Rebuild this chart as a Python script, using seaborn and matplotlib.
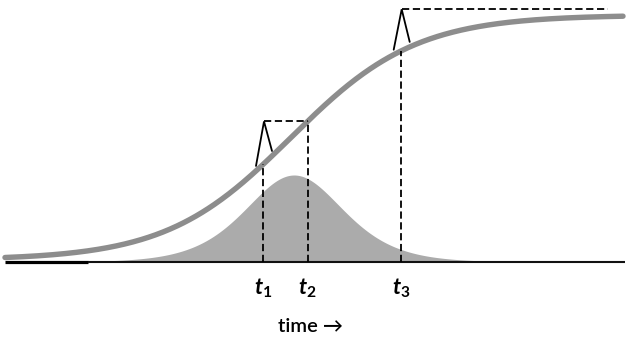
import numpy as np
import pandas as pd
import matplotlib
matplotlib.use("Agg")
import matplotlib.pyplot as plt
import seaborn as sns

# ---- values (time axis in pixel-like units, level up from baseline) ----
time_start, time_end = 5, 623            # extent of the growth curve
sig_low, sig_high = 2, 245               # lower level and rise of the growth curve
sig_center, sig_scale = 291, 62.5        # midpoint and steepness
rate_center, rate_scale, rate_peak = 294, 33, 87   # shaded rate curve (bell shape)
t_positions = [263, 307.5, 401]          # t1, t2, t3
t_labels = ["$t_1$", "$t_2$", "$t_3$"]
final_level = 252.7                      # level of the top dashed line
final_end = 608
axis_label = "time \u2192"

sns.set_theme(style="white")
plt.rcParams["mathtext.fontset"] = "custom"
plt.rcParams["mathtext.it"] = "Lato:italic:bold"
plt.rcParams["mathtext.rm"] = "Lato:bold"
plt.rcParams["font.family"] = ["Lato", "DejaVu Sans"]

x = np.linspace(time_start, time_end, 600)
sig = sig_low + sig_high / (1 + np.exp(-(x - sig_center) / sig_scale))
rate = rate_peak / np.cosh((x - rate_center) / (2 * rate_scale)) ** 2
df = pd.DataFrame({"time": x, "level": sig, "rate": rate})

def curve(v):
    return sig_low + sig_high / (1 + np.exp(-(v - sig_center) / sig_scale))

fig = plt.figure(figsize=(6.29, 3.37), dpi=100)
ax = fig.add_axes([0, 0, 1, 1])
ax.set_xlim(0, 629)
ax.set_ylim(-75, 262)
ax.axis("off")

ax.fill_between(df["time"], 0, df["rate"], color="#ababab", lw=0, zorder=1)
sns.lineplot(data=df, x="time", y="level", ax=ax, color="#8d8d8d", lw=3.9, zorder=3)

# baseline
ax.plot([5, 88], [0, 0], color="black", lw=2.3, solid_capstyle="butt", zorder=4)
ax.plot([88, 625], [0, 0], color="#111111", lw=1.5, solid_capstyle="butt", zorder=4)

dash = dict(color="black", lw=1.3, dashes=(4, 2), zorder=5)
t1, t2, t3 = t_positions
lvl2 = curve(t2)
# vertical dashed lines
ax.plot([t1, t1], [0, curve(t1)], **dash)
ax.plot([t2, t2], [0, lvl2], **dash)
ax.plot([t3, t3], [0, curve(t3)], **dash)
# horizontal dashed lines
ax.plot([t1 + 1, t2], [lvl2, lvl2], **dash)
ax.plot([t3 + 0.7, final_end], [final_level, final_level], **dash)
# small peaks
for tp, top in [(t1 + 1, lvl2), (t3 + 0.7, final_level)]:
    xl, xr = tp - 8, tp + 8
    ax.plot([xl, tp, xr], [curve(xl) + 5, top, curve(xr) + 5],
            color="black", lw=1.3, zorder=5, solid_joinstyle="miter")

for tp, lab in zip(t_positions, t_labels):
    ax.text(tp, -26, lab, ha="center", va="center", fontsize=16, color="black")
ax.text(310, -65, axis_label, ha="center", va="center", fontsize=14.5,
        fontweight="semibold", color="black")

fig.savefig("out.png", dpi=100)
